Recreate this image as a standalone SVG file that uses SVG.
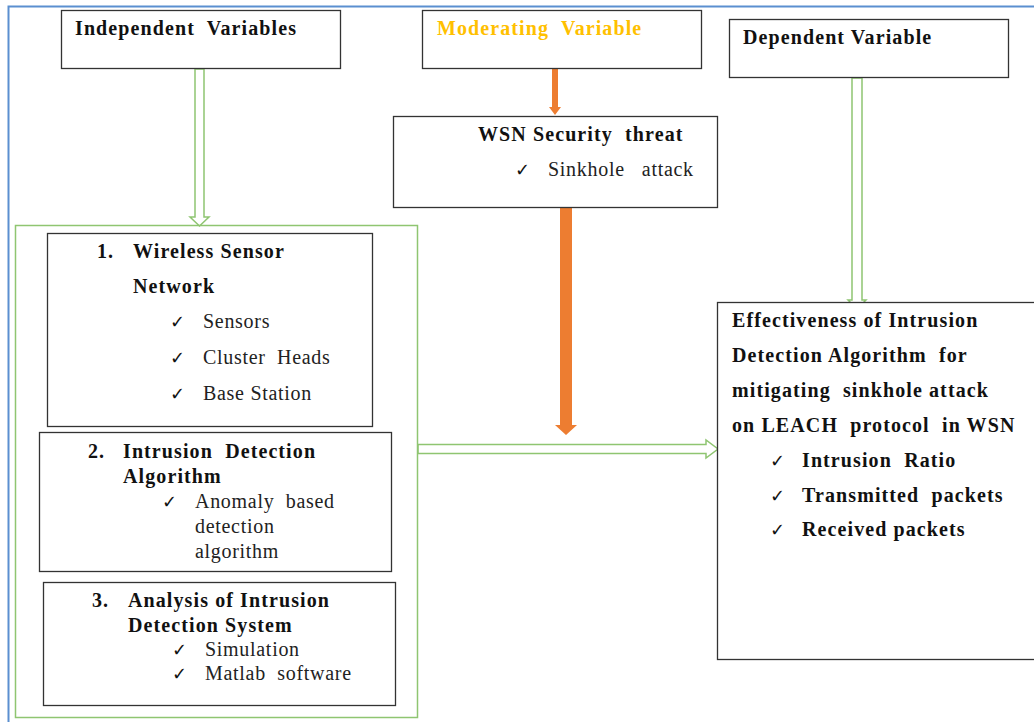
<svg xmlns="http://www.w3.org/2000/svg" width="1034" height="722" viewBox="0 0 1034 722">
<style>
.box{fill:#fff;stroke:#333;stroke-width:1.3}
.b{font-family:'Liberation Serif','Times New Roman',Times,serif;font-weight:bold;font-size:20px;letter-spacing:1.1px;fill:#111}
.r{font-family:'Liberation Serif','Times New Roman',Times,serif;font-size:20px;letter-spacing:0.7px;fill:#222}
.ck{font-family:'DejaVu Sans',sans-serif;font-size:18px;font-weight:bold;fill:#111}
.garrow{fill:#fff;stroke:#8fc571;stroke-width:1.5;stroke-linejoin:miter}
.oarrow{fill:#ed7d31;stroke:none}
</style>
<rect x="0" y="0" width="1034" height="722" fill="#fff"/>
<path d="M8.5,722 V6.5 H1034" fill="none" stroke="#5b8fd0" stroke-width="2"/>

<g id="connectors">
  <path class="garrow" d="M195,69 V217 H190 L199.5,226 L209,217 H204 V69 Z"/>
  <path class="oarrow" d="M552,69 V107 H549 L555,115 L561,107 H558 V69 Z"/>
  <path class="oarrow" d="M560,206 V425 H555 L566,435 L577,425 H572 V206 Z"/>
  <path class="garrow" d="M418,444.5 H706 V440 L718,449 L706,458 V453.5 H418 Z"/>
  <path class="garrow" d="M852,78 V300 H848 L857,309 L866,300 H862 V78 Z"/>
</g>

<g id="independent">
  <rect class="box" x="61.5" y="10.5" width="279" height="58"/>
  <text class="b" x="75" y="35" xml:space="preserve">Independent  Variables</text>
</g>

<g id="moderating">
  <rect class="box" x="422.5" y="10.5" width="279" height="58"/>
  <text class="b" x="437" y="35" style="fill:#ffc000" xml:space="preserve">Moderating  Variable</text>
</g>

<g id="dependent">
  <rect class="box" x="729.5" y="19.5" width="279" height="58"/>
  <text class="b" x="743" y="44">Dependent Variable</text>
</g>

<g id="threat">
  <rect class="box" x="393.5" y="116.5" width="324" height="91"/>
  <text class="b" x="478" y="141" xml:space="preserve">WSN Security  threat</text>
  <text class="ck" x="515" y="176">✓</text>
  <text class="r" x="548" y="176" xml:space="preserve">Sinkhole   attack</text>
</g>

<g id="independent-group">
  <rect x="15.5" y="225.5" width="402" height="492" fill="none" stroke="#8fc571" stroke-width="1.5"/>
</g>

<g id="wsn">
  <rect class="box" x="47.5" y="233.5" width="325" height="193"/>
  <text class="b" x="97" y="258">1.</text>
  <text class="b" x="133" y="258">Wireless Sensor</text>
  <text class="b" x="133" y="293">Network</text>
  <text class="ck" x="170" y="328">✓</text>
  <text class="r" x="203" y="328">Sensors</text>
  <text class="ck" x="170" y="364">✓</text>
  <text class="r" x="203" y="364" xml:space="preserve">Cluster  Heads</text>
  <text class="ck" x="170" y="400">✓</text>
  <text class="r" x="203" y="400">Base Station</text>
</g>

<g id="ida">
  <rect class="box" x="39.5" y="432.5" width="352" height="139"/>
  <text class="b" x="88" y="458">2.</text>
  <text class="b" x="123" y="458" xml:space="preserve">Intrusion  Detection</text>
  <text class="b" x="123" y="483">Algorithm</text>
  <text class="ck" x="162" y="508">✓</text>
  <text class="r" x="195" y="508" xml:space="preserve">Anomaly  based</text>
  <text class="r" x="195" y="533">detection</text>
  <text class="r" x="195" y="558">algorithm</text>
</g>

<g id="analysis">
  <rect class="box" x="43.5" y="582.5" width="352" height="123"/>
  <text class="b" x="92" y="607">3.</text>
  <text class="b" x="128" y="607">Analysis of Intrusion</text>
  <text class="b" x="128" y="632">Detection System</text>
  <text class="ck" x="172" y="656">✓</text>
  <text class="r" x="205" y="656">Simulation</text>
  <text class="ck" x="172" y="680">✓</text>
  <text class="r" x="205" y="680" xml:space="preserve">Matlab  software</text>
</g>

<g id="effectiveness">
  <rect class="box" x="717.5" y="302.5" width="330" height="357"/>
  <text class="b" x="732" y="327">Effectiveness of Intrusion</text>
  <text class="b" x="732" y="362" xml:space="preserve">Detection Algorithm  for</text>
  <text class="b" x="732" y="397" xml:space="preserve">mitigating  sinkhole attack</text>
  <text class="b" x="732" y="432" xml:space="preserve">on LEACH  protocol  in WSN</text>
  <text class="ck" x="770" y="467">✓</text>
  <text class="b" x="802" y="467" xml:space="preserve">Intrusion  Ratio</text>
  <text class="ck" x="770" y="502">✓</text>
  <text class="b" x="802" y="502" xml:space="preserve">Transmitted  packets</text>
  <text class="ck" x="770" y="536">✓</text>
  <text class="b" x="802" y="536">Received packets</text>
</g>
</svg>
